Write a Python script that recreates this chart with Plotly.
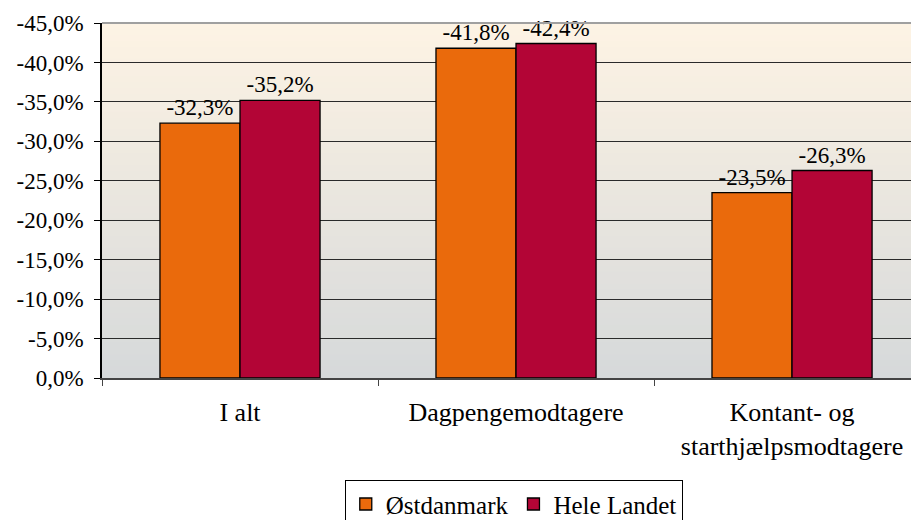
import plotly.graph_objects as go

categories = ["I alt", "Dagpengemodtagere", "Kontant- og<br>starthjælpsmodtagere"]
oestdanmark = [-32.3, -41.8, -23.5]
hele_landet = [-35.2, -42.4, -26.3]
y_ticks = [0, -5, -10, -15, -20, -25, -30, -35, -40, -45]
y_ticktext = ["0,0%", "-5,0%", "-10,0%", "-15,0%", "-20,0%", "-25,0%",
              "-30,0%", "-35,0%", "-40,0%", "-45,0%"]

serif = "Liberation Serif"

fig = go.Figure()

fig.add_trace(go.Bar(
    x=categories,
    y=oestdanmark,
    name="Østdanmark",
    marker=dict(color="#EA6A0C", line=dict(color="black", width=1.3)),
    texttemplate="%{y:.1f}%",
    textposition="outside",
    textfont=dict(family=serif, size=23),
    cliponaxis=False,
))

fig.add_trace(go.Bar(
    x=categories,
    y=hele_landet,
    name="Hele Landet",
    marker=dict(color="#B30536", line=dict(color="black", width=1.3)),
    texttemplate="%{y:.1f}%",
    textposition="outside",
    textfont=dict(family=serif, size=23),
    cliponaxis=False,
))

# gradient background: gray at the bottom, light peach at the top
bottom = (214, 217, 218)
top = (253, 243, 228)
steps = 60
shapes = []
for i in range(steps):
    t = i / (steps - 1)
    c = tuple(round(bottom[k] + (top[k] - bottom[k]) * t) for k in range(3))
    shapes.append(dict(
        type="rect", xref="x domain", yref="y domain",
        x0=0, x1=1, y0=i / steps, y1=(i + 1) / steps + 0.002,
        fillcolor=f"rgb{c}", line=dict(width=0), layer="below",
    ))

# top border line is lighter than the grid
shapes.append(dict(
    type="line", xref="x domain", yref="y domain",
    x0=0, x1=1, y0=1, y1=1, line=dict(color="#A0A0A0", width=2), layer="above",
))

# page body has an 8px margin, so the figure is a bit smaller than the window
fig.update_layout(
    width=911,
    height=512,
    margin=dict(l=94, r=0, t=15, b=142, autoexpand=False),
    paper_bgcolor="white",
    plot_bgcolor="white",
    separators=",.",
    barmode="group",
    bargap=0.42,
    bargroupgap=0,
    font=dict(family=serif, size=23, color="black"),
    shapes=shapes,
    showlegend=True,
    legend=dict(
        orientation="h",
        x=0.504, xanchor="center",
        y=-0.288, yanchor="top",
        bordercolor="black", borderwidth=1,
        bgcolor="white",
        font=dict(family=serif, size=25),
        itemwidth=30,
    ),
    xaxis=dict(
        range=[-0.5, 2.46],
        tickson="boundaries",
        ticks="outside",
        ticklen=6,
        tickcolor="#444",
        showline=True,
        linecolor="#444",
        linewidth=2,
        showgrid=False,
        automargin=False,
        ticklabelstandoff=10,
        tickfont=dict(family=serif, size=26),
    ),
    yaxis=dict(
        range=[0, -45],
        tickvals=y_ticks,
        ticktext=y_ticktext,
        ticks="outside",
        ticklen=6,
        tickcolor="black",
        showline=True,
        linecolor="black",
        linewidth=1.5,
        showgrid=True,
        gridcolor="#2a2a2a",
        gridwidth=1,
        zeroline=False,
        automargin=False,
        ticklabelstandoff=6,
        tickfont=dict(family=serif, size=23),
    ),
)

fig.write_html("out.html")
